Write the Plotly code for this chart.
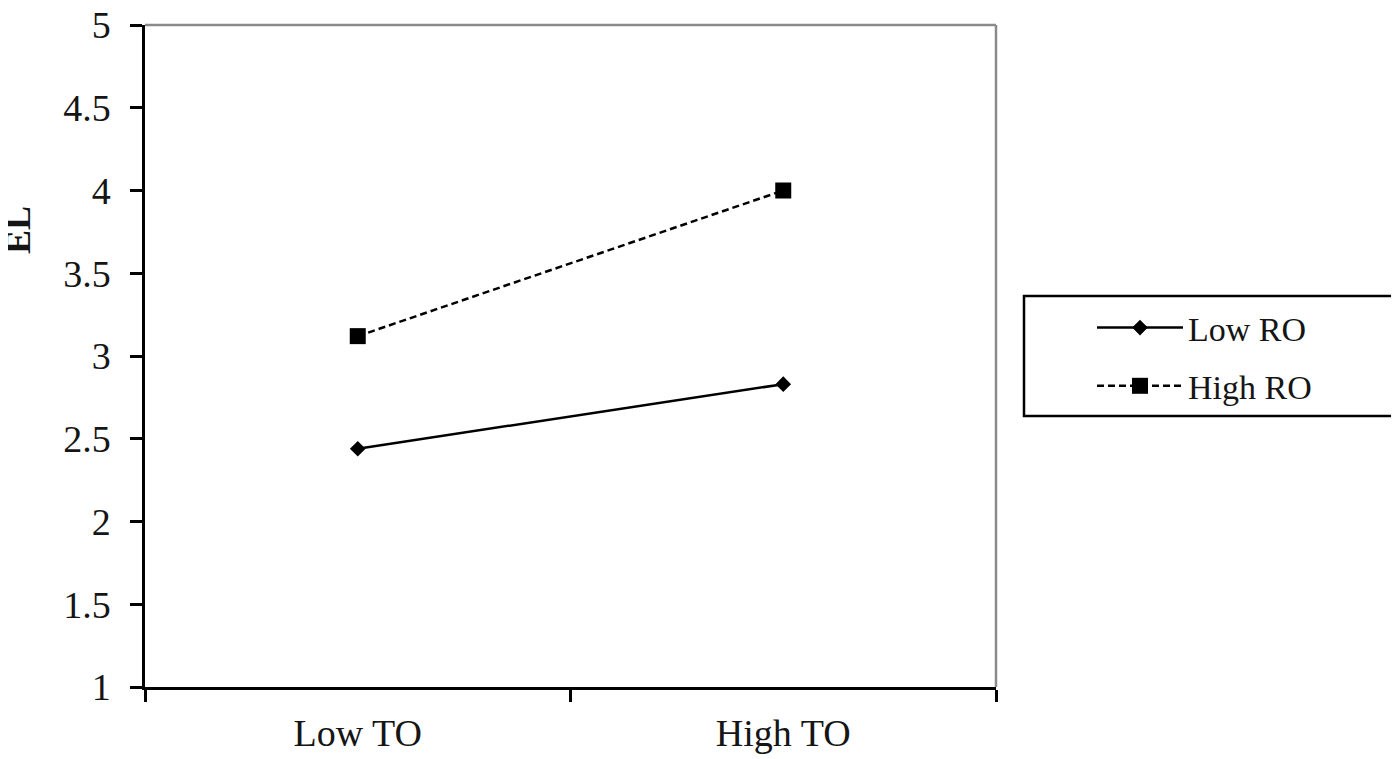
import plotly.graph_objects as go

categories = ["Low TO", "High TO"]
low_ro = [2.44, 2.83]
high_ro = [3.12, 4.00]
series_names = ["Low RO", "High RO"]
y_ticks = [1, 1.5, 2, 2.5, 3, 3.5, 4, 4.5, 5]
y_tick_labels = ["1", "1.5", "2", "2.5", "3", "3.5", "4", "4.5", "5"]

FONT = "Liberation Serif"
TXT = "#151515"

# plot area in page pixels (reference): left 144, right 995, top 25, bottom 687
OFF_X, OFF_Y = 7, 8   # page offset of the figure
L, R, T, B = 144 - OFF_X, 1399 - 995 + OFF_X, 25 - OFF_Y, 759 - 687 + OFF_Y
PW, PH = 995 - 144, 687 - 25


def px_x(px):
    return (px - 144) / PW


def px_y(py):
    return (687 - py) / PH


fig = go.Figure()
fig.add_trace(go.Scatter(
    x=categories, y=low_ro, name=series_names[0], mode="lines+markers",
    line=dict(color="black", width=2.5),
    marker=dict(symbol="diamond", size=12, color="black"),
    legendgroup="a",
))
fig.add_trace(go.Scatter(
    x=categories, y=high_ro, name=series_names[1], mode="lines+markers",
    line=dict(color="black", width=2.5, dash="7px,4px"),
    marker=dict(symbol="square", size=16, color="black"),
    legendgroup="b",
))

fig.update_layout(
    width=1399, height=759,
    margin=dict(l=L, r=R, t=T, b=B, autoexpand=False),
    paper_bgcolor="white", plot_bgcolor="white",
    font=dict(family=FONT, size=38, color=TXT),
    showlegend=True,
    legend=dict(
        x=px_x(1091), y=px_y(299), xanchor="left", yanchor="top",
        borderwidth=0, bgcolor="rgba(0,0,0,0)",
        font=dict(family=FONT, size=34, color=TXT),
        tracegroupgap=11, itemwidth=86,
    ),
    xaxis=dict(
        type="category", range=[-0.5, 1.5], automargin=False,
        showline=True, linecolor="black", linewidth=2.5,
        ticks="outside", ticklen=12, tickwidth=2.5, tickcolor="black",
        tickson="boundaries", showgrid=False, zeroline=False,
        ticklabelstandoff=11, ticklabeloverflow="allow",
        tickfont=dict(family=FONT, size=38, color=TXT),
    ),
    yaxis=dict(
        range=[1, 5], tickvals=y_ticks, ticktext=y_tick_labels, automargin=False,
        showline=True, linecolor="black", linewidth=2.5,
        ticks="outside", ticklen=12, tickwidth=2.5, tickcolor="black",
        showgrid=False, zeroline=False,
        ticklabelstandoff=12, ticklabeloverflow="allow",
        tickfont=dict(family=FONT, size=38, color=TXT),
    ),
)

fig.add_annotation(
    text="<b>EL</b>", xref="paper", yref="paper",
    x=px_x(17), y=px_y(230), xanchor="center", yanchor="middle",
    textangle=-90, showarrow=False,
    font=dict(family=FONT, size=36, color=TXT),
)

# grey top and right frame lines
fig.add_shape(type="line", xref="paper", yref="paper", x0=0, x1=1, y0=1, y1=1,
              line=dict(color="#8a8a8a", width=2.5))
fig.add_shape(type="line", xref="paper", yref="paper", x0=1, x1=1, y0=0, y1=1,
              line=dict(color="#8a8a8a", width=2.5))

# legend frame
fig.add_shape(type="rect", xref="paper", yref="paper",
              x0=px_x(1023), x1=px_x(1392), y0=px_y(416), y1=px_y(296),
              line=dict(color="black", width=2.5), fillcolor="rgba(0,0,0,0)")

fig.write_html("out.html")
